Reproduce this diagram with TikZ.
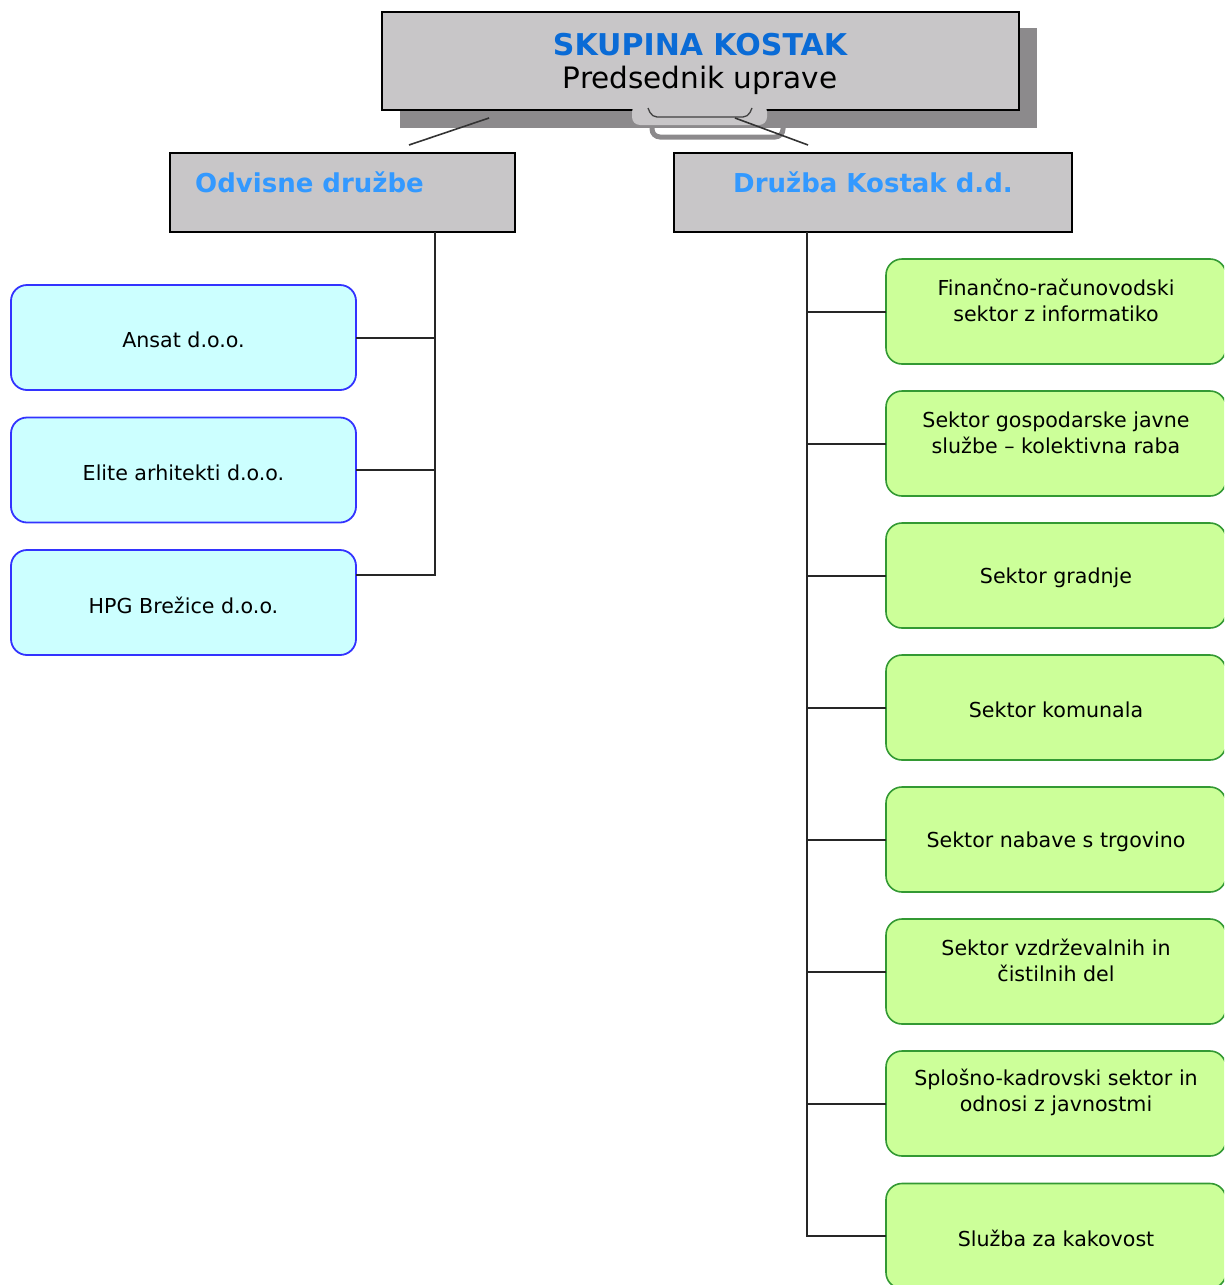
\documentclass[tikz,border=0pt]{standalone}
\usepackage{fontspec}
\setmainfont{DejaVu Sans}
\definecolor{boxgray}{HTML}{C8C6C8}
\definecolor{shadowgray}{HTML}{8C8A8C}
\definecolor{cyanfill}{HTML}{CCFFFF}
\definecolor{cyanline}{HTML}{3333FF}
\definecolor{greenfill}{HTML}{CCFF99}
\definecolor{greenline}{HTML}{339933}
\definecolor{titleblue}{HTML}{0A6BD6}
\definecolor{headblue}{HTML}{3399FF}
\begin{document}
\begin{tikzpicture}[x=1pt,y=-1pt,
  graybox/.style={draw=black, line width=1.8pt, fill=boxgray, inner sep=0pt, outer sep=0pt},
  cbox/.style={draw=cyanline, fill=cyanfill, rounded corners=16pt, line width=1.8pt,
    minimum width=345pt, minimum height=105pt, inner sep=0pt, outer sep=0pt},
  gbox/.style={draw=greenline, fill=greenfill, rounded corners=16pt, line width=1.6pt,
    minimum width=340pt, minimum height=105pt, inner sep=0pt, outer sep=0pt},
  txt/.style={font=\fontsize{20.6}{26}\selectfont, align=center, inner sep=0pt, text=black},
  headtxt/.style={font=\fontsize{26}{30}\selectfont\bfseries, text=headblue, inner sep=0pt},
  conn/.style={draw=black!85, line width=2pt},
  deco/.style={draw=black!80, line width=1.6pt}]
\useasboundingbox (0,0) rectangle (1224,1285);
\clip (0,0) rectangle (1224,1285);

% shadow of top box
\fill[shadowgray] (400,28) rectangle (1037,128);
\draw[shadowgray, line width=5pt, rounded corners=8pt] (652,112) rectangle (783,137);

% top box
\node[graybox, minimum width=637pt, minimum height=98pt] (top) at (700.5,61) {};
\node[font=\fontsize{30}{32}\selectfont\bfseries, text=titleblue, inner sep=0pt] (title) at (700,45) {SKUPINA KOSTAK};
\node[font=\fontsize{29.5}{32}\selectfont, inner sep=0pt] (sub) at (700,80) {Predsednik uprave};

% decorative tab under top box
\fill[boxgray, rounded corners=8pt] (632,104) rectangle (767,125);
\draw[black!75, line width=1.3pt, rounded corners=5pt] (648,108) -- (652,117) -- (748,117) -- (752,108);
\coordinate (tl) at (489,118);
\coordinate (tr) at (735,118);
\coordinate (ol) at (409,145);
\coordinate (or) at (808,145);
\draw[deco] (tl) -- (ol);
\draw[deco] (tr) -- (or);

% second level
\node[graybox, minimum width=345pt, minimum height=79pt] (odv) at (342.5,192.5) {};
\node[headtxt, anchor=west] (odvt) at (195,182) {Odvisne družbe};
\node[graybox, minimum width=398pt, minimum height=79pt] (dkd) at (873,192.5) {};
\node[headtxt] (dkdt) at (873,182) {Družba Kostak d.d.};

% left branch
\node[cbox] (ansat) at (183.5,337.5) {};
\node[txt] (ansatt) at ([yshift=-2.5pt]ansat.center) {Ansat d.o.o.};
\node[cbox] (elite) at (183.5,470) {};
\node[txt] (elitet) at ([yshift=-2.5pt]elite.center) {Elite arhitekti d.o.o.};
\node[cbox] (hpg) at (183.5,602.5) {};
\node[txt] (hpgt) at ([yshift=-2.5pt]hpg.center) {HPG Brežice d.o.o.};

\coordinate (tL) at (435,232);
\coordinate (hpgc) at ([yshift=27.5pt]hpg.east);
\draw[conn] (tL) |- (hpgc);
\draw[conn] (ansat.east) -- (ansat.east -| tL);
\draw[conn] (elite.east) -- (elite.east -| tL);

% right branch
\node[gbox] (g1) at (1056,311.5) {};
\node[txt] (g1t) at ([yshift=11pt]g1.center) {Finančno-računovodski\\sektor z informatiko};
\node[gbox] (g2) at (1056,443.5) {};
\node[txt] (g2t) at ([yshift=11pt]g2.center) {Sektor gospodarske javne\\službe – kolektivna raba};
\node[gbox] (g3) at (1056,575.5) {};
\node[txt] (g3t) at ([yshift=-2.5pt]g3.center) {Sektor gradnje};
\node[gbox] (g4) at (1056,707.5) {};
\node[txt] (g4t) at ([yshift=-2.5pt]g4.center) {Sektor komunala};
\node[gbox] (g5) at (1056,839.5) {};
\node[txt] (g5t) at ([yshift=-2.5pt]g5.center) {Sektor nabave s trgovino};
\node[gbox] (g6) at (1056,971.5) {};
\node[txt] (g6t) at ([yshift=11pt]g6.center) {Sektor vzdrževalnih in\\čistilnih del};
\node[gbox] (g7) at (1056,1103.5) {};
\node[txt] (g7t) at ([yshift=11pt]g7.center) {Splošno-kadrovski sektor in\\odnosi z javnostmi};
\node[gbox] (g8) at (1056,1236) {};
\node[txt] (g8t) at ([yshift=-2.5pt]g8.center) {Služba za kakovost};

\coordinate (tR) at (807,232);
\draw[conn] (tR) |- (g8.west);
\foreach \g in {g1,g2,g3,g4,g5,g6,g7}{
  \draw[conn] (\g.west) -- (\g.west -| tR);
}
\end{tikzpicture}
\end{document}
